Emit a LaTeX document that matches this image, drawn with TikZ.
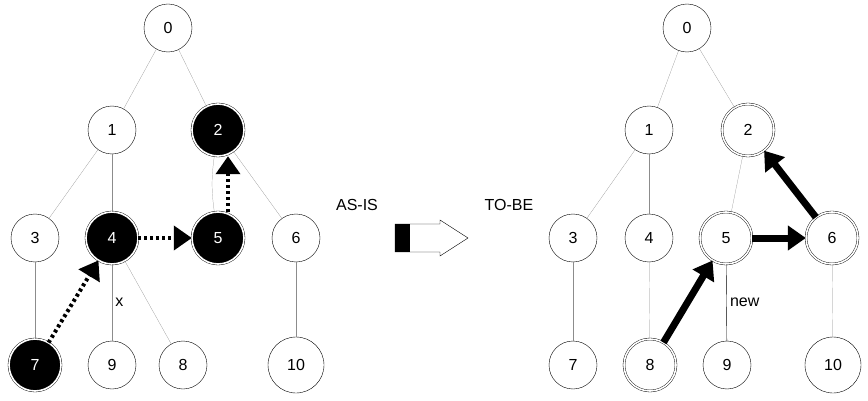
\documentclass[tikz,border=0pt]{standalone}
\usepackage{fontspec}
\setmainfont{Liberation Sans}
\usetikzlibrary{arrows.meta}
\tikzset{vert/.style = {circle, draw = black, thin, minimum size = 48pt, inner sep = 0pt, font = \fontsize{16}{18}\selectfont},
	dvert/.style = {vert, double = white, double distance = 1.6pt, minimum size = 52pt},
	hvert/.style = {dvert, fill = black, text = white},
	tree/.style = {draw = black!45, very thin},
	dashmove/.style = {-{Triangle[length=18pt, width=24pt]}, line width = 4pt, dash pattern = on 3pt off 3pt},
	move/.style = {-{Triangle[length=18pt, width=24pt]}, line width = 7pt}}

\begin{document}
\begin{tikzpicture}[x=1pt, y=-1pt]
 \useasboundingbox (0,0) rectangle (868,401);

 % AS-IS
 \node (a0) at (168,28) [vert] {0};
 \node (a1) at (112,130) [vert] {1};
 \node (a2) at (218,130) [hvert] {2};
 \node (a3) at (35,238) [vert] {3};
 \node (a4) at (112,238) [hvert] {4};
 \node (a5) at (218,238) [hvert] {5};
 \node (a6) at (296,238) [vert] {6};
 \node (a7) at (35,365) [hvert] {7};
 \node (a9) at (112,365) [vert] {9};
 \node (a8) at (183,365) [vert] {8};
 \node (a10) at (296,365) [vert, minimum size = 56pt] {10};
 \draw [tree] (a0) -- (a1);
 \draw [tree] (a0) -- (a2);
 \draw [tree] (a1) -- (a3);
 \draw [tree] (a1) -- (a4);
 \draw [tree] (a2) to [bend right = 8] (a5);
 \draw [tree] (a2) -- (a6);
 \draw [tree] (a3) -- (a7);
 \draw [tree] (a4) -- node [right, black, font = \fontsize{16}{18}\selectfont] {x} (a9);
 \draw [tree] (a4) -- (a8);
 \draw [tree] (a6) -- (a10);
 \draw [dashmove] (a7) -- (a4);
 \draw [dashmove] (a4) -- (a5);
 \draw [dashmove] (a5.north) ++(10,0) coordinate (a5t) -- (a5t |- a2.south);

 % transition
 \node (asis) at (357,205) [font = \fontsize{16}{18}\selectfont] {AS-IS};
 \node (tobe) at (509,205) [font = \fontsize{16}{18}\selectfont] {TO-BE};
 \draw [thin] (395,224) -- (440,224) -- (440,220) -- (468,238) -- (440,256) -- (440,252) -- (395,252) -- cycle;
 \fill [black] (395,224) rectangle (410,252);

 % TO-BE
 \node (b0) at (687,28) [vert] {0};
 \node (b1) at (649,130) [vert] {1};
 \node (b2) at (748,130) [dvert] {2};
 \node (b3) at (573,238) [vert] {3};
 \node (b4) at (649,238) [vert] {4};
 \node (b5) at (726,238) [dvert] {5};
 \node (b6) at (832,238) [dvert] {6};
 \node (b7) at (573,365) [vert] {7};
 \node (b8) at (650,365) [dvert] {8};
 \node (b9) at (727,365) [vert] {9};
 \node (b10) at (833,365) [vert, minimum size = 56pt] {10};
 \draw [tree] (b0) -- (b1);
 \draw [tree] (b0) -- (b2);
 \draw [tree] (b1) -- (b3);
 \draw [tree] (b1) -- (b4);
 \draw [tree] (b2) -- (b5);
 \draw [tree] (b2) -- (b6);
 \draw [tree] (b3) -- (b7);
 \draw [tree] (b4) -- (b8);
 \draw [thin] (b5) -- node [right, font = \fontsize{16}{18}\selectfont] {new} (b9);
 \draw [tree] (b6) -- (b10);
 \draw [move] (b8) -- (b5);
 \draw [move] (b5) -- (b6);
 \draw [move] (b6) -- (b2);
\end{tikzpicture}
\end{document}
